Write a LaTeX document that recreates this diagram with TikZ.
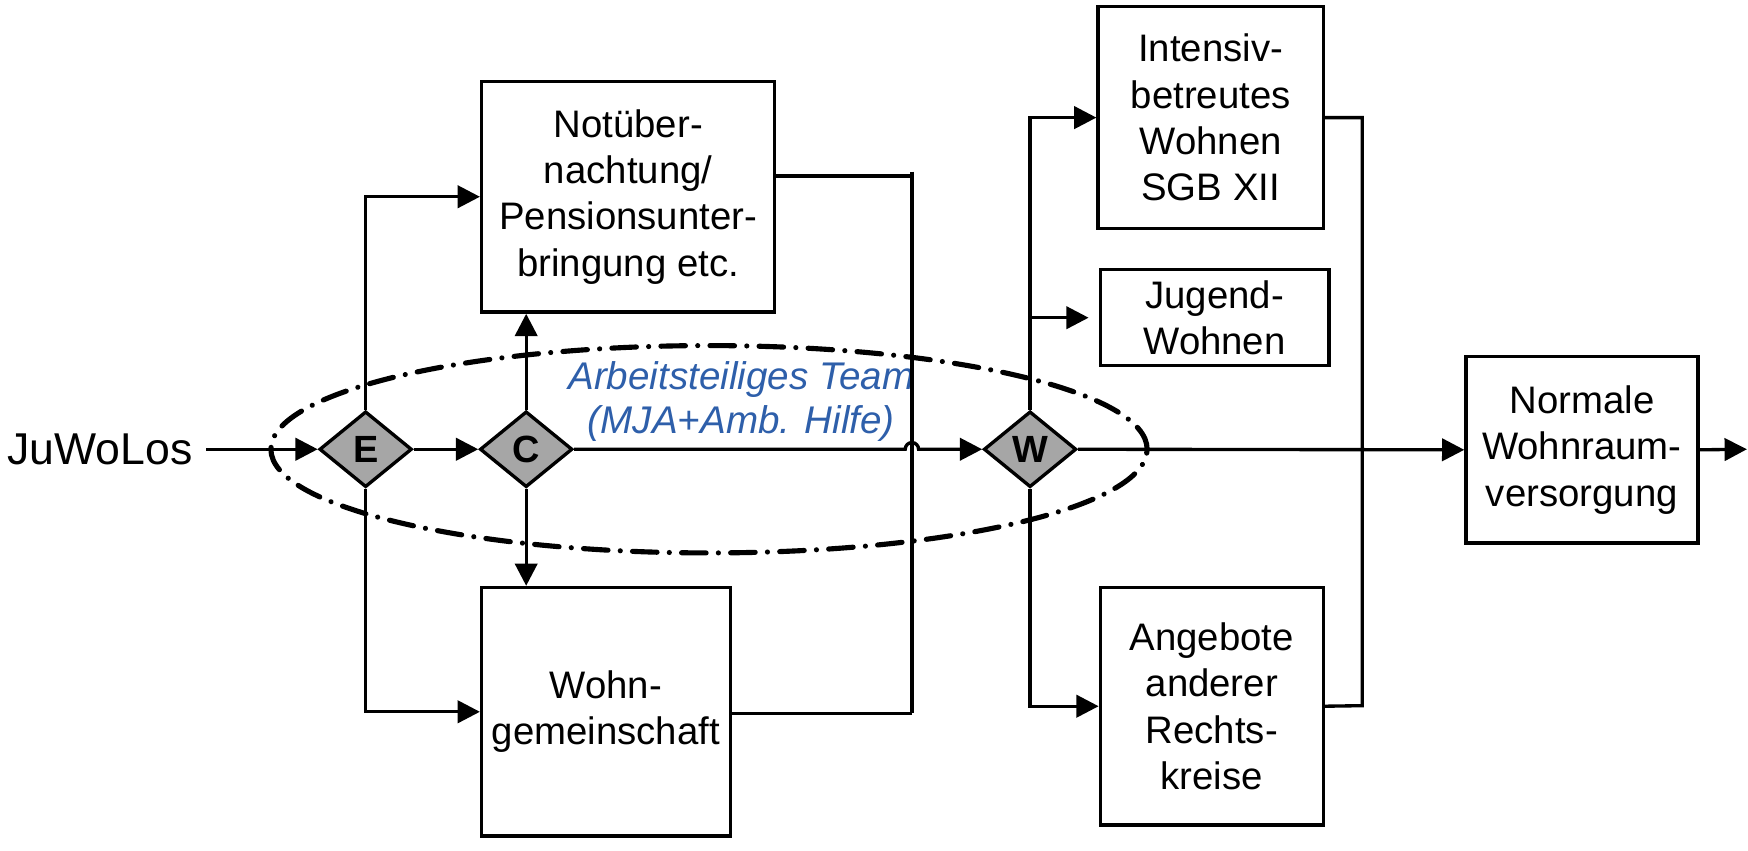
\documentclass[tikz,border=0pt]{standalone}
\usepackage{fontspec}
\setmainfont{Liberation Sans}
\usetikzlibrary{shapes.geometric,arrows.meta}
\definecolor{teamblue}{RGB}{46,95,170}
\definecolor{dgray}{RGB}{166,166,166}
\begin{document}
\begin{tikzpicture}[x=0.5pt,y=-0.5pt,
  every node/.style={font=\fontsize{17.2}{20.8}\selectfont},
  box/.style={draw,line width=1.5pt,align=center,inner sep=0pt},
  dec/.style={diamond,draw,line width=1.5pt,fill=dgray,inner sep=0pt,minimum width=41.5pt,minimum height=34pt,font=\fontsize{17}{17}\selectfont\bfseries},
  line/.style={line width=1.5pt},
  arr/.style={line width=1.5pt,-{Triangle[length=10pt,width=10pt]}},
  team/.style={line width=2.3pt,line cap=round,dash pattern=on 11pt off 5.5pt on 0.01pt off 5.5pt}]
\useasboundingbox (0,0) rectangle (1568,763);
% boxes
\node[box,minimum width=131.5pt,minimum height=103.5pt] (not) at (563.5,176.5) {Notüber-\\nachtung/\\Pensionsunter-\\bringung etc.};
\node[box,minimum width=111.5pt,minimum height=111.5pt] (wg) at (543.5,638.5) {Wohn-\\gemeinschaft};
\node[box,minimum width=101pt,minimum height=99.5pt] (int) at (1086,105.5) {Intensiv-\\betreutes\\Wohnen\\SGB XII};
\node[box,minimum width=102.5pt,minimum height=43pt] (jug) at (1089.5,285) {Jugend-\\Wohnen};
\node[box,minimum width=100pt,minimum height=106.5pt] (ang) at (1087,633.5) {Angebote\\anderer\\Rechts-\\kreise};
\node[box,minimum width=104pt,minimum height=83.5pt] (norm) at (1419,403.5) {Normale\\Wohnraum-\\versorgung};
% decisions
\node[dec] (E) at (328,403) {E};
\node[dec] (C) at (472,403) {C};
\node[dec] (W) at (924,403) {W};
% input label
\node[anchor=east,inner sep=0pt,font=\fontsize{20}{23}\selectfont] (ju) at (173,403) {JuWoLos};
% team ellipse and label
\draw[team] (636,403) ellipse [x radius=196.5pt,y radius=46.5pt];
\node[align=center,text=teamblue,font=\fontsize{17.3}{20}\selectfont\itshape] (tm) at (665,360) {Arbeitsteiliges Team\\(MJA+Amb. Hilfe)};
% coordinates
\coordinate (hop) at (818,403);
\coordinate (m1) at (818,158);
\coordinate (m2) at (818,640);
\coordinate (m0) at (818,154);
\coordinate (rb) at (1222,633);
\coordinate (out) at (1567,403);
% connectors
\draw[arr] ([xshift=6pt]ju.east) -- (E.west);
\draw[arr] (E.east) -- (C.west);
\draw[arr] (C.east) -- ([xshift=-3pt]hop) arc[start angle=180,end angle=0,radius=3pt] -- (W.west);
\draw[arr] (E.north) |- (not.west);
\draw[arr] (E.south) |- (wg.west);
\draw[arr] (C.north) -- (C.north |- not.south);
\draw[arr] (C.south) -- (C.south |- wg.north);
\draw[line] (m1 -| not.east) -- (m1);
\draw[line] (m0) -- (m2);
\draw[line] (m2 -| wg.east) -- (m2);
\draw[arr] (W.north) |- (int.west);
\draw[arr] (W.north |- jug.west) -- ([xshift=-4.5pt]jug.west);
\draw[arr] (W.south) |- (ang.west);
\draw[line] (int.east) -| (rb) -- (ang.east);
\draw[arr] (W.east) -- (norm.west);
\draw[arr] (norm.east) -- (out);
\end{tikzpicture}
\end{document}
